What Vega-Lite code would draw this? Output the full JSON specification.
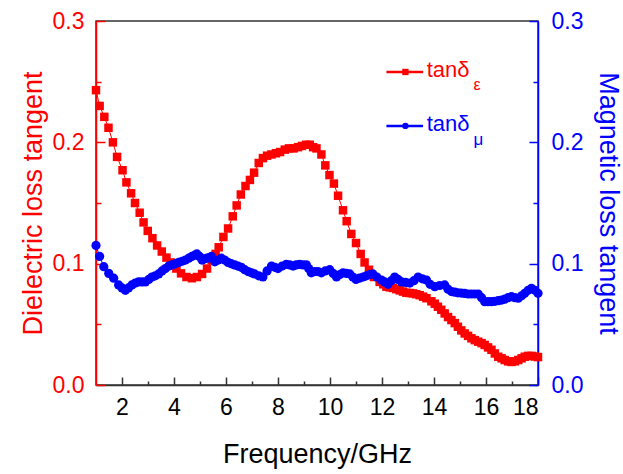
{
  "$schema": "https://vega.github.io/schema/vega-lite/v6.json",
  "width": 442,
  "height": 364,
  "autosize": "none",
  "padding": {"left": 96, "top": 21, "right": 85, "bottom": 89},
  "background": "white",
  "view": {"stroke": "#333333", "strokeWidth": 1.5},
  "config": {
    "font": "Liberation Sans",
    "axis": {"grid": false, "labelFont": "Liberation Sans", "titleFont": "Liberation Sans", "labelFontSize": 23, "titleFontSize": 27, "titleFontWeight": "normal", "domainWidth": 1.5, "tickWidth": 1.5}
  },
  "datasets": {
    "red": [
      {"f":1.00,"v":0.243},{"f":1.14,"v":0.230},{"f":1.32,"v":0.221},{"f":1.48,"v":0.212},{"f":1.65,"v":0.200},
      {"f":1.81,"v":0.188},{"f":2.02,"v":0.177},{"f":2.17,"v":0.167},{"f":2.35,"v":0.158},{"f":2.50,"v":0.150},
      {"f":2.68,"v":0.142},{"f":2.83,"v":0.134},{"f":2.99,"v":0.127},{"f":3.17,"v":0.121},{"f":3.35,"v":0.115},
      {"f":3.53,"v":0.110},{"f":3.71,"v":0.105},{"f":3.88,"v":0.101},{"f":4.09,"v":0.096},{"f":4.27,"v":0.092},
      {"f":4.48,"v":0.089},{"f":4.69,"v":0.088},{"f":4.88,"v":0.089},{"f":5.08,"v":0.0915},{"f":5.27,"v":0.096},
      {"f":5.45,"v":0.103},{"f":5.60,"v":0.108},{"f":5.72,"v":0.1135},{"f":5.90,"v":0.122},{"f":6.08,"v":0.129},
      {"f":6.26,"v":0.139},{"f":6.41,"v":0.148},{"f":6.57,"v":0.157},{"f":6.75,"v":0.164},{"f":6.92,"v":0.169},
      {"f":7.08,"v":0.175},{"f":7.26,"v":0.183},{"f":7.42,"v":0.187},{"f":7.58,"v":0.189},{"f":7.75,"v":0.190},
      {"f":7.92,"v":0.191},{"f":8.08,"v":0.192},{"f":8.26,"v":0.194},{"f":8.42,"v":0.195},{"f":8.60,"v":0.195},
      {"f":8.77,"v":0.196},{"f":8.92,"v":0.197},{"f":9.08,"v":0.198},{"f":9.22,"v":0.198},{"f":9.35,"v":0.196},
      {"f":9.48,"v":0.195},{"f":9.67,"v":0.190},{"f":9.82,"v":0.181},{"f":9.98,"v":0.173},{"f":10.15,"v":0.166},
      {"f":10.31,"v":0.156},{"f":10.50,"v":0.144},{"f":10.64,"v":0.135},{"f":10.82,"v":0.1245},{"f":11.00,"v":0.117},
      {"f":11.18,"v":0.108},{"f":11.33,"v":0.101},{"f":11.50,"v":0.095},{"f":11.69,"v":0.089},{"f":11.91,"v":0.085},
      {"f":12.05,"v":0.083},{"f":12.17,"v":0.081},{"f":12.30,"v":0.0805},{"f":12.42,"v":0.080},{"f":12.55,"v":0.079},
      {"f":12.68,"v":0.078},{"f":12.81,"v":0.077},{"f":12.94,"v":0.076},{"f":13.07,"v":0.0758},{"f":13.19,"v":0.0755},
      {"f":13.32,"v":0.0748},{"f":13.45,"v":0.074},{"f":13.58,"v":0.0728},{"f":13.71,"v":0.0715},{"f":13.90,"v":0.069},
      {"f":14.03,"v":0.067},{"f":14.15,"v":0.0645},{"f":14.28,"v":0.062},{"f":14.41,"v":0.059},{"f":14.54,"v":0.056},
      {"f":14.67,"v":0.0535},{"f":14.80,"v":0.051},{"f":14.92,"v":0.048},{"f":15.05,"v":0.045},{"f":15.18,"v":0.0425},
      {"f":15.31,"v":0.0405},{"f":15.44,"v":0.0385},{"f":15.57,"v":0.037},{"f":15.70,"v":0.0357},{"f":15.83,"v":0.0345},
      {"f":15.95,"v":0.033},{"f":16.08,"v":0.031},{"f":16.21,"v":0.029},{"f":16.34,"v":0.026},{"f":16.47,"v":0.0233},
      {"f":16.60,"v":0.022},{"f":16.72,"v":0.0206},{"f":16.85,"v":0.0195},{"f":16.98,"v":0.019},{"f":17.11,"v":0.0195},
      {"f":17.24,"v":0.0206},{"f":17.37,"v":0.022},{"f":17.49,"v":0.0233},{"f":17.62,"v":0.024},{"f":17.75,"v":0.024},
      {"f":17.88,"v":0.0235},{"f":18.00,"v":0.023}
    ],
    "blue": [
      {"f":1.00,"v":0.115},{"f":1.14,"v":0.106},{"f":1.30,"v":0.0975},{"f":1.49,"v":0.092},{"f":1.68,"v":0.088},
      {"f":1.87,"v":0.0825},{"f":2.00,"v":0.080},{"f":2.13,"v":0.078},{"f":2.25,"v":0.080},{"f":2.38,"v":0.0825},
      {"f":2.51,"v":0.084},{"f":2.64,"v":0.085},{"f":2.77,"v":0.085},{"f":2.90,"v":0.085},{"f":3.03,"v":0.087},
      {"f":3.15,"v":0.089},{"f":3.28,"v":0.090},{"f":3.41,"v":0.0915},{"f":3.54,"v":0.094},{"f":3.67,"v":0.096},
      {"f":3.80,"v":0.098},{"f":3.92,"v":0.099},{"f":4.05,"v":0.100},{"f":4.18,"v":0.101},{"f":4.31,"v":0.102},
      {"f":4.44,"v":0.103},{"f":4.57,"v":0.1045},{"f":4.69,"v":0.106},{"f":4.80,"v":0.107},{"f":4.88,"v":0.108},
      {"f":4.98,"v":0.106},{"f":5.08,"v":0.103},{"f":5.18,"v":0.104},{"f":5.27,"v":0.1045},{"f":5.36,"v":0.105},
      {"f":5.44,"v":0.106},{"f":5.57,"v":0.1015},{"f":5.70,"v":0.103},{"f":5.82,"v":0.1045},{"f":5.95,"v":0.103},
      {"f":6.08,"v":0.101},{"f":6.20,"v":0.100},{"f":6.33,"v":0.099},{"f":6.46,"v":0.098},{"f":6.59,"v":0.097},
      {"f":6.72,"v":0.095},{"f":6.85,"v":0.0935},{"f":6.98,"v":0.0925},{"f":7.10,"v":0.0915},{"f":7.26,"v":0.090},
      {"f":7.42,"v":0.089},{"f":7.58,"v":0.094},{"f":7.75,"v":0.098},{"f":7.88,"v":0.097},{"f":8.00,"v":0.096},
      {"f":8.16,"v":0.098},{"f":8.32,"v":0.0995},{"f":8.45,"v":0.099},{"f":8.58,"v":0.098},{"f":8.70,"v":0.099},
      {"f":8.83,"v":0.0995},{"f":8.96,"v":0.099},{"f":9.09,"v":0.099},{"f":9.18,"v":0.096},{"f":9.28,"v":0.0925},
      {"f":9.41,"v":0.0935},{"f":9.54,"v":0.0935},{"f":9.67,"v":0.0925},{"f":9.82,"v":0.094},{"f":9.99,"v":0.095},
      {"f":10.12,"v":0.092},{"f":10.25,"v":0.089},{"f":10.38,"v":0.091},{"f":10.50,"v":0.0925},{"f":10.63,"v":0.092},
      {"f":10.76,"v":0.0915},{"f":10.88,"v":0.089},{"f":11.00,"v":0.087},{"f":11.13,"v":0.088},{"f":11.27,"v":0.089},
      {"f":11.40,"v":0.090},{"f":11.52,"v":0.091},{"f":11.65,"v":0.0915},{"f":11.80,"v":0.089},{"f":11.98,"v":0.0865},
      {"f":12.10,"v":0.085},{"f":12.23,"v":0.083},{"f":12.36,"v":0.086},{"f":12.49,"v":0.089},{"f":12.62,"v":0.087},
      {"f":12.75,"v":0.085},{"f":12.91,"v":0.0845},{"f":13.07,"v":0.084},{"f":13.23,"v":0.086},{"f":13.39,"v":0.089},
      {"f":13.55,"v":0.0875},{"f":13.71,"v":0.0865},{"f":13.85,"v":0.083},{"f":14.03,"v":0.081},{"f":14.22,"v":0.082},
      {"f":14.41,"v":0.0825},{"f":14.54,"v":0.079},{"f":14.67,"v":0.077},{"f":14.80,"v":0.0765},{"f":14.92,"v":0.076},
      {"f":15.05,"v":0.0758},{"f":15.18,"v":0.0755},{"f":15.31,"v":0.075},{"f":15.44,"v":0.075},{"f":15.57,"v":0.075},
      {"f":15.70,"v":0.075},{"f":15.83,"v":0.072},{"f":15.95,"v":0.0687},{"f":16.08,"v":0.0687},{"f":16.21,"v":0.0687},
      {"f":16.34,"v":0.069},{"f":16.47,"v":0.0695},{"f":16.60,"v":0.070},{"f":16.72,"v":0.0707},{"f":16.85,"v":0.072},
      {"f":16.98,"v":0.0728},{"f":17.11,"v":0.072},{"f":17.24,"v":0.0715},{"f":17.37,"v":0.0735},{"f":17.49,"v":0.0756},
      {"f":17.62,"v":0.078},{"f":17.75,"v":0.0797},{"f":17.88,"v":0.078},{"f":18.00,"v":0.0756}
    ]
  },
  "layer": [
    {
      "data": {"name": "red"},
      "mark": {"type": "line", "color": "#ff0000", "strokeWidth": 1, "point": {"shape": "square", "size": 72, "filled": true, "color": "#ff0000", "opacity": 1}},
      "encoding": {
        "x": {"field": "f", "type": "quantitative", "scale": {"domain": [1, 18], "nice": false, "zero": false},
          "axis": {"orient": "bottom", "values": [2,4,6,8,10,12,14,16,18], "tickSize": -8, "labelPadding": 19, "domainColor": "#333333", "tickColor": "#333333", "labelColor": "#000000", "title": "Frequency/GHz", "titlePadding": 22, "titleColor": "#000000"}},
        "y": {"field": "v", "type": "quantitative", "scale": {"domain": [0, 0.3], "nice": false},
          "axis": {"orient": "left", "values": [0, 0.1, 0.2, 0.3], "format": ".1f", "tickSize": -9, "labelPadding": 21, "domainColor": "#ff0000", "tickColor": "#ff0000", "labelColor": "#ff0000", "title": "Dielectric loss tangent", "titleColor": "#ff0000", "titlePadding": 5}}
      }
    },
    {
      "data": {"name": "blue"},
      "mark": {"type": "line", "color": "#0000ff", "strokeWidth": 1, "point": {"shape": "circle", "size": 85, "filled": true, "color": "#0000ff", "opacity": 1}},
      "encoding": {
        "x": {"field": "f", "type": "quantitative", "scale": {"domain": [1, 18], "nice": false, "zero": false}, "axis": null},
        "y": {"field": "v", "type": "quantitative", "scale": {"domain": [0, 0.3], "nice": false},
          "axis": {"orient": "right", "values": [0, 0.1, 0.2, 0.3], "format": ".1f", "tickSize": -9, "labelPadding": 22, "domainColor": "#0000ff", "tickColor": "#0000ff", "labelColor": "#0000ff", "title": "Magnetic loss tangent", "titleColor": "#0000ff", "titlePadding": 11}}
      }
    },
    {
      "data": {"name": "red"},
      "mark": {"type": "point", "opacity": 0},
      "encoding": {
        "x": {"field": "f", "type": "quantitative", "scale": {"domain": [1, 18], "nice": false, "zero": false},
          "axis": {"orient": "bottom", "values": [3,5,7,9,11,13,15,17], "tickSize": -4, "labels": false, "domain": false, "tickColor": "#333333", "title": null}},
        "y": {"field": "v", "type": "quantitative", "scale": {"domain": [0, 0.3], "nice": false},
          "axis": {"orient": "left", "values": [0.05, 0.15, 0.25], "tickSize": -5, "labels": false, "domain": false, "tickColor": "#ff0000", "title": null}}
      }
    },
    {
      "data": {"name": "blue"},
      "mark": {"type": "point", "opacity": 0},
      "encoding": {
        "x": {"field": "f", "type": "quantitative", "scale": {"domain": [1, 18], "nice": false, "zero": false}, "axis": null},
        "y": {"field": "v", "type": "quantitative", "scale": {"domain": [0, 0.3], "nice": false},
          "axis": {"orient": "right", "values": [0.05, 0.15, 0.25], "tickSize": -5, "labels": false, "domain": false, "tickColor": "#0000ff", "title": null}}
      }
    },
    {
      "data": {"values": [{"s": "eps"}]},
      "mark": {"type": "rule", "color": "#ff0000", "strokeWidth": 2.5},
      "encoding": {
        "x": {"datum": 12.17, "type": "quantitative", "scale": {"domain": [1, 18], "nice": false, "zero": false}, "axis": null},
        "x2": {"datum": 13.58},
        "y": {"datum": 0.258, "type": "quantitative", "scale": {"domain": [0, 0.3], "nice": false}, "axis": null}
      }
    },
    {
      "data": {"values": [{"s": "eps"}]},
      "mark": {"type": "point", "shape": "square", "filled": true, "color": "#ff0000", "size": 40, "opacity": 1},
      "encoding": {
        "x": {"datum": 12.9, "type": "quantitative", "scale": {"domain": [1, 18], "nice": false, "zero": false}, "axis": null},
        "y": {"datum": 0.258, "type": "quantitative", "scale": {"domain": [0, 0.3], "nice": false}, "axis": null}
      }
    },
    {
      "data": {"values": [{"s": "mu"}]},
      "mark": {"type": "rule", "color": "#0000ff", "strokeWidth": 2.5},
      "encoding": {
        "x": {"datum": 12.17, "type": "quantitative", "scale": {"domain": [1, 18], "nice": false, "zero": false}, "axis": null},
        "x2": {"datum": 13.58},
        "y": {"datum": 0.2135, "type": "quantitative", "scale": {"domain": [0, 0.3], "nice": false}, "axis": null}
      }
    },
    {
      "data": {"values": [{"s": "mu"}]},
      "mark": {"type": "point", "shape": "circle", "filled": true, "color": "#0000ff", "size": 40, "opacity": 1},
      "encoding": {
        "x": {"datum": 12.9, "type": "quantitative", "scale": {"domain": [1, 18], "nice": false, "zero": false}, "axis": null},
        "y": {"datum": 0.2135, "type": "quantitative", "scale": {"domain": [0, 0.3], "nice": false}, "axis": null}
      }
    },
    {
      "data": {"values": [{"label": "tanδ"}]},
      "mark": {"type": "text", "align": "left", "baseline": "middle", "fontSize": 22, "color": "#ff0000", "font": "Liberation Sans"},
      "encoding": {
        "x": {"datum": 13.72, "type": "quantitative", "scale": {"domain": [1, 18], "nice": false, "zero": false}, "axis": null},
        "y": {"datum": 0.26, "type": "quantitative", "scale": {"domain": [0, 0.3], "nice": false}, "axis": null},
        "text": {"field": "label"}
      }
    },
    {
      "data": {"values": [{"label": "ε"}]},
      "mark": {"type": "text", "align": "left", "baseline": "middle", "fontSize": 16, "color": "#ff0000", "font": "Liberation Sans"},
      "encoding": {
        "x": {"datum": 15.52, "type": "quantitative", "scale": {"domain": [1, 18], "nice": false, "zero": false}, "axis": null},
        "y": {"datum": 0.247, "type": "quantitative", "scale": {"domain": [0, 0.3], "nice": false}, "axis": null},
        "text": {"field": "label"}
      }
    },
    {
      "data": {"values": [{"label": "tanδ"}]},
      "mark": {"type": "text", "align": "left", "baseline": "middle", "fontSize": 22, "color": "#0000ff", "font": "Liberation Sans"},
      "encoding": {
        "x": {"datum": 13.72, "type": "quantitative", "scale": {"domain": [1, 18], "nice": false, "zero": false}, "axis": null},
        "y": {"datum": 0.2155, "type": "quantitative", "scale": {"domain": [0, 0.3], "nice": false}, "axis": null},
        "text": {"field": "label"}
      }
    },
    {
      "data": {"values": [{"label": "μ"}]},
      "mark": {"type": "text", "align": "left", "baseline": "middle", "fontSize": 17, "color": "#0000ff", "font": "Liberation Sans"},
      "encoding": {
        "x": {"datum": 15.52, "type": "quantitative", "scale": {"domain": [1, 18], "nice": false, "zero": false}, "axis": null},
        "y": {"datum": 0.202, "type": "quantitative", "scale": {"domain": [0, 0.3], "nice": false}, "axis": null},
        "text": {"field": "label"}
      }
    }
  ],
  "resolve": {"scale": {"x": "independent", "y": "independent"}}
}
